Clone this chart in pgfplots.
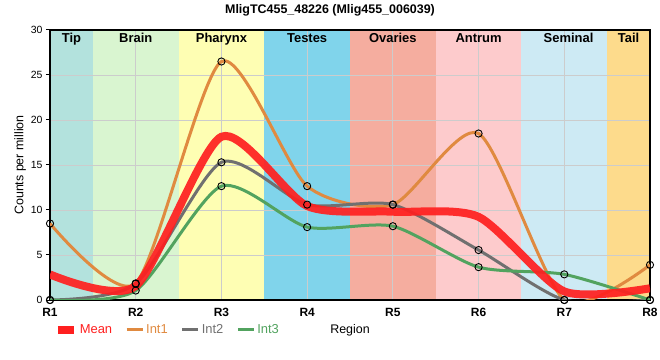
\documentclass[border=0pt]{standalone}
\usepackage{pgfplots}
\pgfplotsset{compat=1.18}
\usepackage{pgfplotstable}
\usepackage{fontspec}
\setmainfont{Liberation Sans}
\definecolor{cTip}{HTML}{B3E2DD}
\definecolor{cBrain}{HTML}{D9F5D0}
\definecolor{cPharynx}{HTML}{FEFEB3}
\definecolor{cTestes}{HTML}{80D4EB}
\definecolor{cOvaries}{HTML}{F5AD9F}
\definecolor{cAntrum}{HTML}{FDCBCC}
\definecolor{cSeminal}{HTML}{CDEAF4}
\definecolor{cTail}{HTML}{FDDB8C}
\definecolor{cMean}{HTML}{FF1F1F}
\definecolor{cInt1}{HTML}{E08A40}
\definecolor{cInt2}{HTML}{707070}
\definecolor{cInt3}{HTML}{52A35F}
\pgfplotstableread{
x mean int1 int2 int3
0 2.84 8.5 0 0
1 1.55 1.85 1.8 1.05
2 18.14 26.5 15.3 12.65
3 10.44 12.65 10.6 8.1
4 9.81 10.6 10.6 8.2
5 9.24 18.5 5.55 3.65
6 0.95 0 0 2.85
7 1.3 3.9 0 0
}\data
\begin{document}
\begin{tikzpicture}
\begin{axis}[
  set layers,
  scale only axis, width=600bp, height=270bp,
  xmin=0, xmax=7, ymin=0, ymax=30,
  xtick={0,1,2,3,4,5,6,7},
  xticklabels={R1,R2,R3,R4,R5,R6,R7,R8},
  ytick={0,5,10,15,20,25,30},
  grid=major, grid style={color=black!20, line width=0.8bp},
  axis line style={line width=1.5bp},
  x tick style={draw=none},
  y tick style={black, line width=1bp},
  ytick pos=left, tick align=outside, major tick length=4bp,
  xticklabel style={font=\fontsize{12}{14}\selectfont\bfseries, yshift=-1bp},
  yticklabel style={font=\fontsize{10.5}{12}\selectfont},
  /pgf/number format/assume math mode=true,
  title={MligTC455\_48226 (Mlig455\_006039)},
  title style={at={(0.4667,1)}, anchor=center, yshift=14bp, font=\fontsize{12.5}{14}\selectfont\bfseries},
  ylabel={Counts per million},
  ylabel style={font=\fontsize{12.5}{14}\selectfont, yshift=-2bp},
  xlabel={Region},
  xlabel style={at={(0.5,-0.111)}, anchor=center, font=\fontsize{12.5}{14}\selectfont},
  legend columns=-1,
  legend image code/.code={\draw[#1] (0bp,0bp) -- (16bp,0bp);},
  legend style={at={(0.006,-0.111)}, anchor=west, draw=none, fill=none,
    font=\fontsize{13}{15}\selectfont, inner sep=0pt,
    /tikz/every even column/.append style={column sep=11bp}},
]
% region bands
\addplot[fill=cTip, draw=none, forget plot, on layer=axis background] coordinates {(0,30) (0.5,30)} \closedcycle;
\addplot[fill=cBrain, draw=none, forget plot, on layer=axis background] coordinates {(0.5,30) (1.5,30)} \closedcycle;
\addplot[fill=cPharynx, draw=none, forget plot, on layer=axis background] coordinates {(1.5,30) (2.5,30)} \closedcycle;
\addplot[fill=cTestes, draw=none, forget plot, on layer=axis background] coordinates {(2.5,30) (3.5,30)} \closedcycle;
\addplot[fill=cOvaries, draw=none, forget plot, on layer=axis background] coordinates {(3.5,30) (4.5,30)} \closedcycle;
\addplot[fill=cAntrum, draw=none, forget plot, on layer=axis background] coordinates {(4.5,30) (5.5,30)} \closedcycle;
\addplot[fill=cSeminal, draw=none, forget plot, on layer=axis background] coordinates {(5.5,30) (6.5,30)} \closedcycle;
\addplot[fill=cTail, draw=none, forget plot, on layer=axis background] coordinates {(6.5,30) (7,30)} \closedcycle;
% lines
\addplot[smooth, tension=0.42, color=cInt1, line width=3bp, forget plot] table[x=x,y=int1]{\data};
\addplot[smooth, tension=0.42, color=cInt2, line width=3bp, forget plot] table[x=x,y=int2]{\data};
\addplot[smooth, tension=0.42, color=cInt3, line width=3bp, forget plot] table[x=x,y=int3]{\data};
\addplot[smooth, tension=0.42, color=cMean, opacity=0.92, line width=8bp, forget plot] table[x=x,y=mean]{\data};
% markers
\addplot[only marks, mark=o, mark size=3.6bp, mark options={black, line width=0.9bp}, forget plot] table[x=x,y=int1]{\data};
\addplot[only marks, mark=o, mark size=3.6bp, mark options={black, line width=0.9bp}, forget plot] table[x=x,y=int2]{\data};
\addplot[only marks, mark=o, mark size=3.6bp, mark options={black, line width=0.9bp}, forget plot] table[x=x,y=int3]{\data};
% band labels
\node[anchor=north, inner sep=3bp, font=\fontsize{13}{15}\selectfont\bfseries] at (axis cs:0.25,30) {Tip};
\node[anchor=north, inner sep=3bp, font=\fontsize{13}{15}\selectfont\bfseries] at (axis cs:1,30) {Brain};
\node[anchor=north, inner sep=3bp, font=\fontsize{13}{15}\selectfont\bfseries] at (axis cs:2,30) {Pharynx};
\node[anchor=north, inner sep=3bp, font=\fontsize{13}{15}\selectfont\bfseries] at (axis cs:3,30) {Testes};
\node[anchor=north, inner sep=3bp, font=\fontsize{13}{15}\selectfont\bfseries] at (axis cs:4,30) {Ovaries};
\node[anchor=north, inner sep=3bp, font=\fontsize{13}{15}\selectfont\bfseries] at (axis cs:5,30) {Antrum};
\node[anchor=north, inner sep=3bp, font=\fontsize{13}{15}\selectfont\bfseries] at (axis cs:6.05,30) {Seminal};
\node[anchor=north, inner sep=3bp, font=\fontsize{13}{15}\selectfont\bfseries] at (axis cs:6.75,30) {Tail};
% legend
\addlegendimage{color=cMean, line width=8bp}
\addlegendentry{\textcolor{cMean}{Mean}}
\addlegendimage{color=cInt1, line width=3bp}
\addlegendentry{\textcolor{cInt1}{Int1}}
\addlegendimage{color=cInt2, line width=3bp}
\addlegendentry{\textcolor{cInt2}{Int2}}
\addlegendimage{color=cInt3, line width=3bp}
\addlegendentry{\textcolor{cInt3}{Int3}}
\end{axis}
\pgfresetboundingbox
\path[use as bounding box] (-50bp,-60bp) rectangle (610bp,300bp);
\end{tikzpicture}
\end{document}
